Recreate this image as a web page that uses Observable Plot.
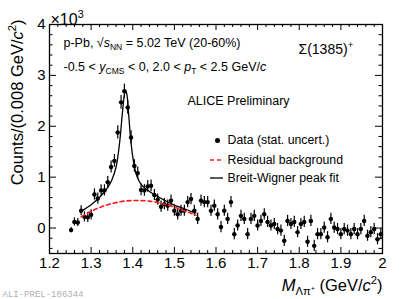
<!DOCTYPE html>
<html><head><meta charset="utf-8">
<script src="https://cdn.jsdelivr.net/npm/d3@7"></script>
<script src="https://cdn.jsdelivr.net/npm/@observablehq/plot@0.6"></script>
<style>body{margin:0;background:#fff;} svg{display:block}</style>
</head><body><div id="chart"></div>
<script>
// ---- data ----
const massBins = [
  1.252,1.26,1.268,1.276,1.284,1.292,1.3,1.308,1.316,1.324,
  1.332,1.34,1.348,1.356,1.364,1.372,1.38,1.388,1.396,1.404,
  1.412,1.42,1.428,1.436,1.444,1.452,1.46,1.468,1.476,1.484,
  1.492,1.5,1.508,1.516,1.524,1.532,1.54,1.548,1.556,1.564,
  1.572,1.58,1.588,1.596,1.604,1.612,1.62,1.628,1.636,1.644,
  1.652,1.66,1.668,1.676,1.684,1.692,1.7,1.708,1.716,1.724,
  1.732,1.74,1.748,1.756,1.764,1.772,1.78,1.788,1.796,1.804,
  1.812,1.82,1.828,1.836,1.844,1.852,1.86,1.868,1.876,1.884,
  1.892,1.9,1.908,1.916,1.924,1.932,1.94,1.948,1.956,1.964,
  1.972,1.98,1.988,1.996];
const counts = [
  -40,120,110,340,220,210,260,660,580,740,
  740,900,1200,1320,1880,2470,2690,2370,1780,1220,
  1080,750,740,820,830,650,560,420,470,440,
  540,340,270,340,340,510,570,340,180,540,
  510,510,340,440,270,20,340,180,510,-120,
  50,240,180,-120,180,240,50,140,270,120,
  50,80,-20,-50,-250,140,80,120,-80,80,
  120,-270,140,-350,-120,-120,10,-180,180,10,
  -20,-120,-20,-50,-120,-20,-120,-20,140,-150,
  -80,-20,-220,-120];
const errors = [
  50,80,80,100,100,100,100,110,110,110,
  110,115,120,125,130,135,140,135,130,125,
  120,115,115,115,115,110,110,110,110,110,
  110,110,110,110,110,110,110,110,110,110,
  110,110,110,110,110,110,110,110,110,110,
  110,110,110,110,110,110,110,110,110,110,
  110,110,110,110,110,110,110,110,110,110,
  110,110,110,110,110,110,110,110,110,110,
  110,110,110,110,110,110,110,110,110,110,
  110,110,110,110];
const binHalfWidth = 0.004;

const bwFitMass   = [1.276,1.30,1.32,1.34,1.35,1.36,1.365,1.37,1.375,1.38,1.383,1.386,1.39,1.395,1.40,1.405,1.41,1.42,1.44,1.46,1.48,1.50,1.52,1.54,1.552];
const bwFitCounts = [330,460,600,800,950,1200,1450,1800,2250,2620,2700,2620,2250,1750,1400,1170,1020,860,720,620,530,450,390,330,300];
const bkgFitMass   = [1.276,1.30,1.32,1.34,1.36,1.38,1.40,1.42,1.44,1.46,1.48,1.50,1.52,1.54,1.552];
const bkgFitCounts = [220,330,400,460,500,530,540,540,530,500,460,410,350,290,250];

const xTicks = [1.2,1.3,1.4,1.5,1.6,1.7,1.8,1.9,2.0];
const xTickLabels = ["1.2","1.3","1.4","1.5","1.6","1.7","1.8","1.9","2"];
const yTicks = [0,1000,2000,3000,4000];
const yTickLabels = ["0","1","2","3","4"];

// ---- layout ----
const W = 416, H = 299, mL = 49, mR = 34, mT = 24, mB = 46;
const iW = W - mL - mR, iH = H - mT - mB;
const font = "'Liberation Sans', Arial, Helvetica, sans-serif";

const data = massBins.map((m, i) => ({m, c: counts[i], e: errors[i]}));
const bw = bwFitMass.map((m, i) => ({m, c: bwFitCounts[i]}));
const bkg = bkgFitMass.map((m, i) => ({m, c: bkgFitCounts[i]}));

const xMinor = d3.range(1.2, 2.0001, 0.02).filter(v => Math.abs(v*10 - Math.round(v*10)) > 1e-6);
const yMinor = d3.range(-400, 4001, 200).filter(v => v % 1000 !== 0);
const xLab = new Map(xTicks.map((t, i) => [t, xTickLabels[i]]));
const yLab = new Map(yTicks.map((t, i) => [t, yTickLabels[i]]));

const note = (text, dx, dy, opts = {}) => Plot.text([text], {
  frameAnchor: "top-left", text: d => d, dx, dy, textAnchor: "start",
  lineAnchor: "middle", fontSize: 12.5, fill: "black", ...opts});

const tickLen = {xMaj: 6, xMin: 3, yMaj: 7, yMin: 3.5};

const chart = Plot.plot({
  width: W, height: H, marginLeft: mL, marginRight: mR, marginTop: mT, marginBottom: mB,
  style: {fontFamily: font, background: "white", overflow: "visible", color: "black"},
  x: {domain: [1.2, 2]},
  y: {domain: [-500, 4000]},
  marks: [
    // ticks on all four sides, pointing inwards
    Plot.tickX(xTicks, {x: d => d, insetTop: iH - tickLen.xMaj, stroke: "black"}),
    Plot.tickX(xMinor, {x: d => d, insetTop: iH - tickLen.xMin, stroke: "black"}),
    Plot.tickX(xTicks, {x: d => d, insetBottom: iH - tickLen.xMaj, stroke: "black"}),
    Plot.tickX(xMinor, {x: d => d, insetBottom: iH - tickLen.xMin, stroke: "black"}),
    Plot.tickY(yTicks, {y: d => d, insetRight: iW - tickLen.yMaj, stroke: "black"}),
    Plot.tickY(yMinor, {y: d => d, insetRight: iW - tickLen.yMin, stroke: "black"}),
    Plot.tickY(yTicks, {y: d => d, insetLeft: iW - tickLen.yMaj, stroke: "black"}),
    Plot.tickY(yMinor, {y: d => d, insetLeft: iW - tickLen.yMin, stroke: "black"}),
    Plot.frame({stroke: "black", strokeWidth: 1.3}),
    Plot.axisX(xTicks, {anchor: "bottom", tickSize: 0, tickPadding: 4, fontSize: 15, label: null, tickFormat: d => xLab.get(d)}),
    Plot.axisY(yTicks, {anchor: "left", tickSize: 0, tickPadding: 4, fontSize: 15, label: null, tickFormat: d => yLab.get(d)}),
    // data
    Plot.ruleX(data, {x: "m", y1: d => d.c - d.e, y2: d => d.c + d.e, stroke: "black", strokeWidth: 1.2}),
    Plot.ruleY(data, {y: "c", x1: d => d.m - binHalfWidth, x2: d => d.m + binHalfWidth, stroke: "black", strokeWidth: 1.2}),
    Plot.dot(data, {x: "m", y: "c", r: 2.2, fill: "black", stroke: "none"}),
    // fits
    Plot.line(bkg, {x: "m", y: "c", stroke: "#ff1a1a", strokeWidth: 1.6, strokeDasharray: "4,3", curve: "catmull-rom"}),
    Plot.line(bw, {x: "m", y: "c", stroke: "black", strokeWidth: 1.3, curve: "catmull-rom"}),
    // annotations
    note("p-Pb, √*{s}_{NN} = 5.02 TeV (20-60%)", 14, 18),
    note("-0.5 < *{y}_{CMS} < 0, 2.0 < *{p}_{T} < 2.5 GeV/*{c}", 14, 42),
    note("Σ(1385)^{+}", 249, 25, {fontSize: 14}),
    note("ALICE Preliminary", 138, 76),
    Plot.dot([0], {frameAnchor: "top-left", dx: 168, dy: 116, r: 2.5, fill: "black", stroke: "none"}),
    note("Data (stat. uncert.)", 178, 116, {fontSize: 12.3}),
    note("Residual background", 178, 136, {fontSize: 12.3}),
    note("Breit-Wigner peak fit", 178, 154, {fontSize: 12.3}),
    // axis titles
    note("×10^{3}", 1, -5, {fontSize: 16}),
    note("Counts/(0.008 GeV/*{c}^{2})", -32, -5, {rotate: -90, textAnchor: "end", fontSize: 16.5}),
    Plot.text(["*{M}_{Λπ⁺} (GeV/*{c}^{2})"], {frameAnchor: "bottom-right", text: d => d, dx: 0, dy: 32, textAnchor: "end", lineAnchor: "middle", fontSize: 16.5, fill: "black"}),
    Plot.text(["ALI-PREL-106344"], {frameAnchor: "bottom-left", text: d => d, dx: -47, dy: 41, textAnchor: "start", lineAnchor: "middle", fontSize: 9, fill: "#b0b0b0", fontFamily: "'Liberation Mono', 'DejaVu Sans Mono', monospace"})
  ]
});
document.getElementById("chart").appendChild(chart);

// legend line samples (decoration)
const svg = d3.select(chart);
svg.append("line").attr("x1", 210).attr("x2", 223).attr("y1", 160).attr("y2", 160)
  .attr("stroke", "#ff1a1a").attr("stroke-width", 1.6).attr("stroke-dasharray", "4,3");
svg.append("line").attr("x1", 210).attr("x2", 223).attr("y1", 178).attr("y2", 178)
  .attr("stroke", "black").attr("stroke-width", 1.3);

// rich text: _{sub} ^{sup} *{italic}
function parseRich(s) {
  const runs = [];
  function walk(str, st) {
    let buf = "";
    for (let i = 0; i < str.length; i++) {
      const ch = str[i];
      if ("_^*".includes(ch) && str[i + 1] === "{") {
        if (buf) { runs.push({t: buf, ...st}); buf = ""; }
        let depth = 1, j = i + 2;
        while (j < str.length && depth) { if (str[j] === "{") depth++; else if (str[j] === "}") depth--; j++; }
        const inner = str.slice(i + 2, j - 1);
        const ns = {...st};
        if (ch === "_") { ns.shift = st.shift + 0.28 * st.scale; ns.scale = st.scale * 0.68; }
        if (ch === "^") { ns.shift = st.shift - 0.4 * st.scale; ns.scale = st.scale * 0.68; }
        if (ch === "*") ns.italic = true;
        walk(inner, ns);
        i = j - 1;
      } else buf += ch;
    }
    if (buf) runs.push({t: buf, ...st});
  }
  walk(s, {shift: 0, scale: 1, italic: false});
  return runs;
}
chart.querySelectorAll("text").forEach(el => {
  const src = el.textContent;
  if (!/[_^*]\{/.test(src)) return;
  const base = parseFloat(getComputedStyle(el).fontSize);
  const runs = parseRich(src);
  while (el.firstChild) el.removeChild(el.firstChild);
  let cur = 0;
  runs.forEach(r => {
    const ts = document.createElementNS("http://www.w3.org/2000/svg", "tspan");
    ts.textContent = r.t;
    const dy = (r.shift - cur) * base;
    if (Math.abs(dy) > 1e-6) ts.setAttribute("dy", dy.toFixed(2));
    cur = r.shift;
    if (r.scale !== 1) ts.setAttribute("font-size", (r.scale * base).toFixed(2));
    if (r.italic) ts.setAttribute("font-style", "italic");
    el.appendChild(ts);
  });
});
</script>
</body></html>
